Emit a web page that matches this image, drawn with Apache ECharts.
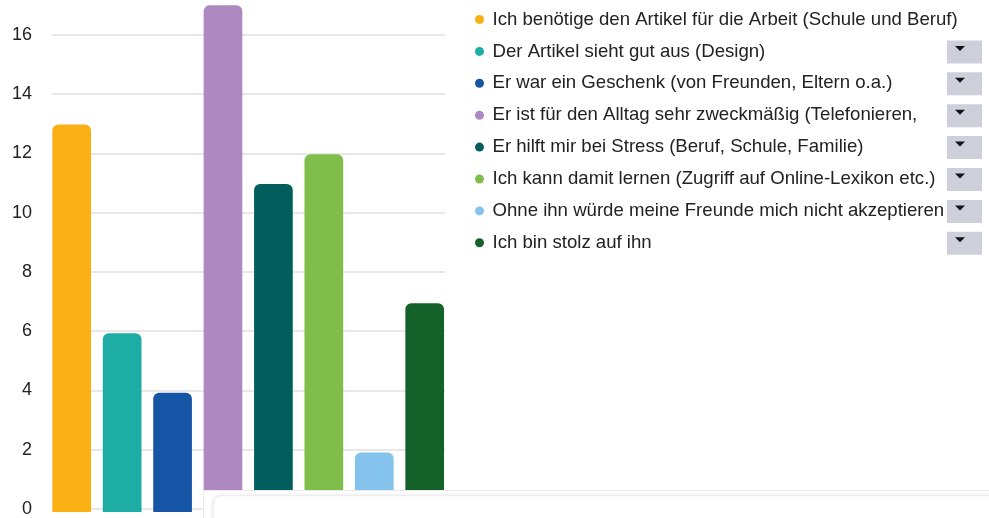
<!DOCTYPE html>
<html>
<head>
<meta charset="utf-8">
<script src="https://cdn.jsdelivr.net/npm/echarts@6/dist/echarts.min.js"></script>
<style>
  html, body { margin: 0; padding: 0; background: #fff; }
  #chart { width: 989px; height: 518px; }
</style>
</head>
<body>
<div id="chart"></div>
<script>
// Gründe für die Nutzung des Artikels (Anzahl Nennungen)
const categories = [
  'Ich benötige den Artikel für die Arbeit (Schule und Beruf)',
  'Der Artikel sieht gut aus (Design)',
  'Er war ein Geschenk (von Freunden, Eltern o.a.)',
  'Er ist für den Alltag sehr zweckmäßig (Telefonieren,',
  'Er hilft mir bei Stress (Beruf, Schule, Familie)',
  'Ich kann damit lernen (Zugriff auf Online-Lexikon etc.)',
  'Ohne ihn würde meine Freunde mich nicht akzeptieren',
  'Ich bin stolz auf ihn'
];
const counts = [13, 6, 4, 17, 11, 12, 2, 7];
const colors = ['#FAAF15', '#1DADA5', '#1655A5', '#AE88C0', '#015E5D', '#80BE4C', '#84C3EC', '#15612A'];
const yTicks = { min: 0, max: 17, interval: 2 };

const chart = echarts.init(document.getElementById('chart'), null, { renderer: 'canvas' });

const font = '"Liberation Sans", Arial, sans-serif';
const textColor = '#222222';

// one series per answer, stacked so each bar sits centred on its own category
const series = categories.map((name, i) => ({
  name: name,
  type: 'bar',
  xAxisIndex: 1,
  yAxisIndex: 1,
  stack: 'answers',
  barWidth: 38.7,
  data: counts.map((v, j) => (j === i ? v : '-')),
  itemStyle: { color: colors[i], borderRadius: [6, 6, 0, 0] },
  emphasis: { disabled: true }
}));

// dropdown buttons beside the legend entries (all but the first one)
const buttons = [];
for (let i = 1; i < categories.length; i++) {
  const cy = 20 + i * 31.9;
  buttons.push({
    type: 'rect',
    z: 100,
    shape: { x: 947, y: cy - 11.5, width: 35, height: 23 },
    style: { fill: '#CDD0DA' }
  });
  buttons.push({
    type: 'polygon',
    z: 101,
    shape: { points: [[955, cy - 6], [965, cy - 6], [960, cy - 1]] },
    style: { fill: '#111111' }
  });
}

const option = {
  animation: false,
  backgroundColor: '#ffffff',
  textStyle: { fontFamily: font },
  legend: {
    orient: 'vertical',
    left: 475,
    top: 10,
    padding: 0,
    itemGap: 12.9,
    itemWidth: 16,
    itemHeight: 9,
    icon: 'circle',
    selectedMode: false,
    data: categories,
    textStyle: { fontFamily: font, fontSize: 18.6, lineHeight: 18, color: textColor }
  },
  grid: [
    { left: 52, right: 544, top: 5.2, bottom: 6 },
    { left: 46.5, width: 403.4, top: 5.2, bottom: 6 }
  ],
  xAxis: [
    { type: 'category', gridIndex: 0, data: categories, show: false },
    { type: 'category', gridIndex: 1, data: categories, show: false, boundaryGap: true }
  ],
  yAxis: [
    {
      type: 'value', gridIndex: 0,
      min: yTicks.min, max: yTicks.max, interval: yTicks.interval,
      axisLine: { show: false },
      axisTick: { show: false },
      axisLabel: { fontFamily: font, fontSize: 18, color: textColor, margin: 20, showMaxLabel: false },
      splitLine: { showMaxLine: false, lineStyle: { color: '#E0E0E0', width: 1.5 } }
    },
    {
      type: 'value', gridIndex: 1,
      min: yTicks.min, max: yTicks.max, interval: yTicks.interval,
      show: false,
      splitLine: { show: false }
    }
  ],
  series: series,
  graphic: [
    // panel overlapping the lower right corner
    {
      type: 'rect', z: 90,
      shape: { x: 203.5, y: 490.5, width: 800, height: 40 },
      style: { fill: '#FFFFFF', stroke: '#EBEBEB', lineWidth: 1 }
    },
    {
      type: 'rect', z: 91,
      shape: { x: 213.5, y: 495.5, width: 800, height: 40, r: 8 },
      style: {
        fill: '#FFFFFF', stroke: '#EEEEEE', lineWidth: 1,
        shadowBlur: 4, shadowColor: 'rgba(0,0,0,0.08)', shadowOffsetX: -1
      }
    }
  ].concat(buttons)
};

chart.setOption(option);
</script>
</body>
</html>
